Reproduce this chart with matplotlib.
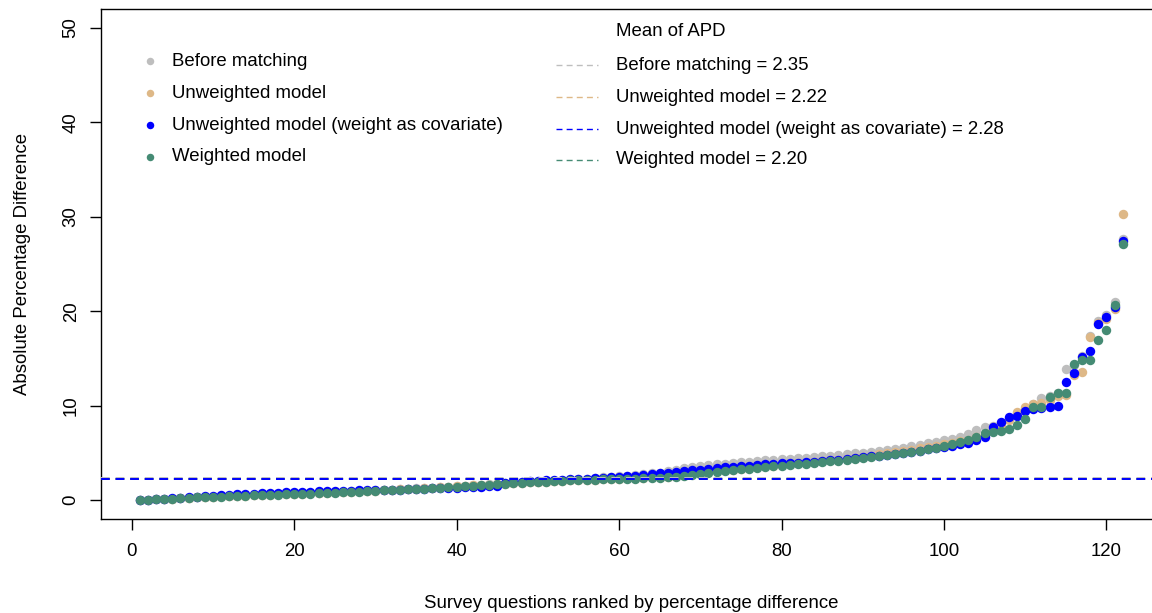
import numpy as np
import matplotlib
matplotlib.use('Agg')
import matplotlib.pyplot as plt
from matplotlib.lines import Line2D

plt.rcParams['font.family'] = ['Liberation Sans', 'DejaVu Sans']

# absolute percentage difference per survey question, each series sorted
before = [
    0.00, 0.04, 0.08, 0.12, 0.16, 0.20, 0.24, 0.28, 0.32, 0.36,
    0.40, 0.44, 0.48, 0.52, 0.55, 0.58, 0.61, 0.64, 0.67, 0.70,
    0.73, 0.76, 0.79, 0.82, 0.85, 0.88, 0.92, 0.96, 1.00, 1.04,
    1.08, 1.12, 1.16, 1.20, 1.24, 1.28, 1.32, 1.37, 1.42, 1.47,
    1.52, 1.57, 1.62, 1.67, 1.72, 1.77, 1.82, 1.87, 1.92, 1.97,
    2.02, 2.07, 2.12, 2.17, 2.22, 2.28, 2.34, 2.40, 2.46, 2.52,
    2.58, 2.66, 2.74, 2.82, 2.92, 3.05, 3.20, 3.35, 3.50, 3.62,
    3.70, 3.78, 3.86, 3.94, 4.02, 4.08, 4.14, 4.20, 4.26, 4.32,
    4.38, 4.44, 4.50, 4.56, 4.62, 4.70, 4.78, 4.86, 4.94, 5.02,
    5.10, 5.20, 5.32, 5.44, 5.56, 5.70, 5.84, 6.00, 6.16, 6.32,
    6.50, 6.70, 6.95, 7.40, 7.77, 7.90, 8.20, 8.60, 9.00, 9.60,
    10.20, 10.80, 11.00, 11.30, 13.90, 14.30, 15.30, 17.40, 19.00, 19.60,
    21.00, 27.70]

unweighted = [
    0.00, 0.04, 0.08, 0.12, 0.16, 0.20, 0.24, 0.28, 0.32, 0.36,
    0.39, 0.42, 0.45, 0.48, 0.51, 0.54, 0.57, 0.60, 0.63, 0.66,
    0.69, 0.72, 0.75, 0.78, 0.81, 0.85, 0.89, 0.93, 0.97, 1.01,
    1.05, 1.09, 1.13, 1.17, 1.21, 1.25, 1.30, 1.35, 1.40, 1.45,
    1.50, 1.55, 1.60, 1.65, 1.70, 1.75, 1.80, 1.85, 1.89, 1.93,
    1.97, 2.01, 2.05, 2.09, 2.12, 2.15, 2.18, 2.21, 2.24, 2.27,
    2.30, 2.33, 2.36, 2.40, 2.44, 2.49, 2.56, 2.64, 2.74, 2.86,
    2.98, 3.08, 3.16, 3.24, 3.32, 3.40, 3.48, 3.56, 3.64, 3.72,
    3.80, 3.88, 3.96, 4.04, 4.12, 4.20, 4.30, 4.40, 4.50, 4.60,
    4.72, 4.84, 4.96, 5.08, 5.20, 5.34, 5.48, 5.62, 5.76, 5.90,
    6.06, 6.22, 6.40, 6.70, 7.00, 7.50, 7.90, 8.50, 9.30, 9.90,
    10.20, 10.30, 10.60, 11.00, 11.10, 13.30, 13.60, 17.30, 18.80, 19.20,
    20.20, 30.30]

unweighted_cov = [
    0.00, 0.05, 0.10, 0.15, 0.20, 0.25, 0.30, 0.35, 0.40, 0.45,
    0.50, 0.55, 0.60, 0.64, 0.68, 0.72, 0.76, 0.79, 0.82, 0.85,
    0.88, 0.90, 0.92, 0.94, 0.96, 0.98, 1.00, 1.02, 1.04, 1.06,
    1.08, 1.10, 1.12, 1.15, 1.18, 1.21, 1.24, 1.27, 1.30, 1.33,
    1.36, 1.39, 1.42, 1.45, 1.50, 1.85, 1.90, 1.95, 2.00, 2.04,
    2.08, 2.12, 2.16, 2.20, 2.24, 2.28, 2.32, 2.36, 2.40, 2.44,
    2.52, 2.58, 2.66, 2.74, 2.82, 2.90, 2.98, 3.06, 3.14, 3.22,
    3.30, 3.38, 3.46, 3.54, 3.60, 3.66, 3.72, 3.78, 3.84, 3.90,
    3.94, 3.98, 4.02, 4.08, 4.14, 4.20, 4.28, 4.36, 4.44, 4.52,
    4.62, 4.70, 4.80, 4.90, 5.00, 5.12, 5.24, 5.36, 5.50, 5.64,
    5.78, 5.92, 6.10, 6.36, 6.70, 7.77, 8.30, 8.80, 8.90, 9.40,
    9.60, 9.80, 9.85, 9.95, 12.50, 13.50, 15.20, 15.80, 18.70, 19.40,
    20.50, 27.40]

weighted = [
    0.00, 0.04, 0.08, 0.12, 0.16, 0.20, 0.24, 0.28, 0.31, 0.34,
    0.37, 0.40, 0.43, 0.46, 0.49, 0.52, 0.55, 0.58, 0.61, 0.64,
    0.67, 0.70, 0.72, 0.75, 0.78, 0.82, 0.86, 0.90, 0.94, 0.98,
    1.02, 1.06, 1.10, 1.14, 1.18, 1.22, 1.27, 1.32, 1.37, 1.42,
    1.47, 1.52, 1.57, 1.62, 1.67, 1.72, 1.77, 1.82, 1.87, 1.92,
    1.96, 2.00, 2.04, 2.08, 2.11, 2.14, 2.17, 2.20, 2.22, 2.24,
    2.26, 2.28, 2.31, 2.34, 2.38, 2.42, 2.47, 2.55, 2.65, 2.78,
    2.92, 3.02, 3.10, 3.18, 3.26, 3.34, 3.42, 3.50, 3.56, 3.62,
    3.70, 3.78, 3.86, 3.94, 4.02, 4.10, 4.18, 4.26, 4.34, 4.42,
    4.52, 4.62, 4.74, 4.86, 4.98, 5.10, 5.24, 5.38, 5.54, 5.70,
    5.95, 6.20, 6.40, 6.70, 7.06, 7.20, 7.30, 7.50, 8.00, 8.54,
    9.90, 9.90, 10.95, 11.30, 11.30, 14.45, 14.80, 14.80, 16.95, 18.00,
    20.65, 27.10]

labels = ['Before matching', 'Unweighted model',
          'Unweighted model (weight as covariate)', 'Weighted model']
means = [2.35, 2.22, 2.28, 2.20]
colors = ['#BEBEBE', '#DEB887', '#0000FF', '#458B74']
series = [before, unweighted, unweighted_cov, weighted]

FS = 13.4
W, H = 1152, 613
fig = plt.figure(figsize=(W / 100, H / 100), dpi=100)
# plot region in pixels: left 100.5, right 1162 (cut off), top 9, bottom 519
ax = fig.add_axes([100.5 / W, (H - 519) / H, (1162 - 100.5) / W, (519 - 9) / H])

for vals, c in zip(series, colors):
    rank = np.arange(1, len(vals) + 1)
    ax.plot(rank, vals, 'o', color=c, ms=6.8, mew=0, zorder=2)

# mean lines (blue last so it sits on top)
for i in [0, 1, 3, 2]:
    ax.axhline(means[i], color=colors[i], lw=1.4, ls=(0, (4.5, 3)), zorder=3)

ax.set_xlim(-3.84, 126.84)
ax.set_ylim(-2, 52)
ax.set_xticks(range(0, 121, 20))
ax.set_yticks(range(0, 51, 10))
ax.tick_params(length=8, width=1, labelsize=FS, direction='out')
ax.tick_params(axis='x', pad=9)
ax.tick_params(axis='y', pad=7)
for lab in ax.get_yticklabels():
    lab.set_rotation(90)
    lab.set_va('center')
for sp in ax.spines.values():
    sp.set_linewidth(1)

ax.set_xlabel('Survey questions ranked by percentage difference', fontsize=FS)
ax.xaxis.set_label_coords(0.5, (519 - 595) / 510)
ax.set_ylabel('Absolute Percentage Difference', fontsize=FS)
ax.yaxis.set_label_coords((31 - 100.5) / 1061.5, 0.5)

# left legend: point symbols
rows_left = [61, 93, 125, 157]
for lab, c, y in zip(labels, colors, rows_left):
    fig.add_artist(Line2D([150 / W], [1 - y / H], marker='o', color=c, ms=5.4,
                          mew=0, ls='none', transform=fig.transFigure))
    fig.text(172 / W, 1 - y / H, lab, fontsize=FS, va='center', ha='left')

# right legend: mean lines
fig.text(616 / W, 1 - 32 / H, 'Mean of APD', fontsize=FS, va='center', ha='left')
rows_right = [65, 97, 129, 160]
for lab, m, c, y in zip(labels, means, colors, rows_right):
    fig.add_artist(Line2D([556 / W, 598 / W], [1 - y / H, 1 - y / H], color=c,
                          lw=1, ls=(0, (4.3, 3)), transform=fig.transFigure))
    fig.text(616 / W, 1 - y / H, '%s = %.2f' % (lab, m), fontsize=FS,
             va='center', ha='left')

fig.savefig('out.png', dpi=100)
